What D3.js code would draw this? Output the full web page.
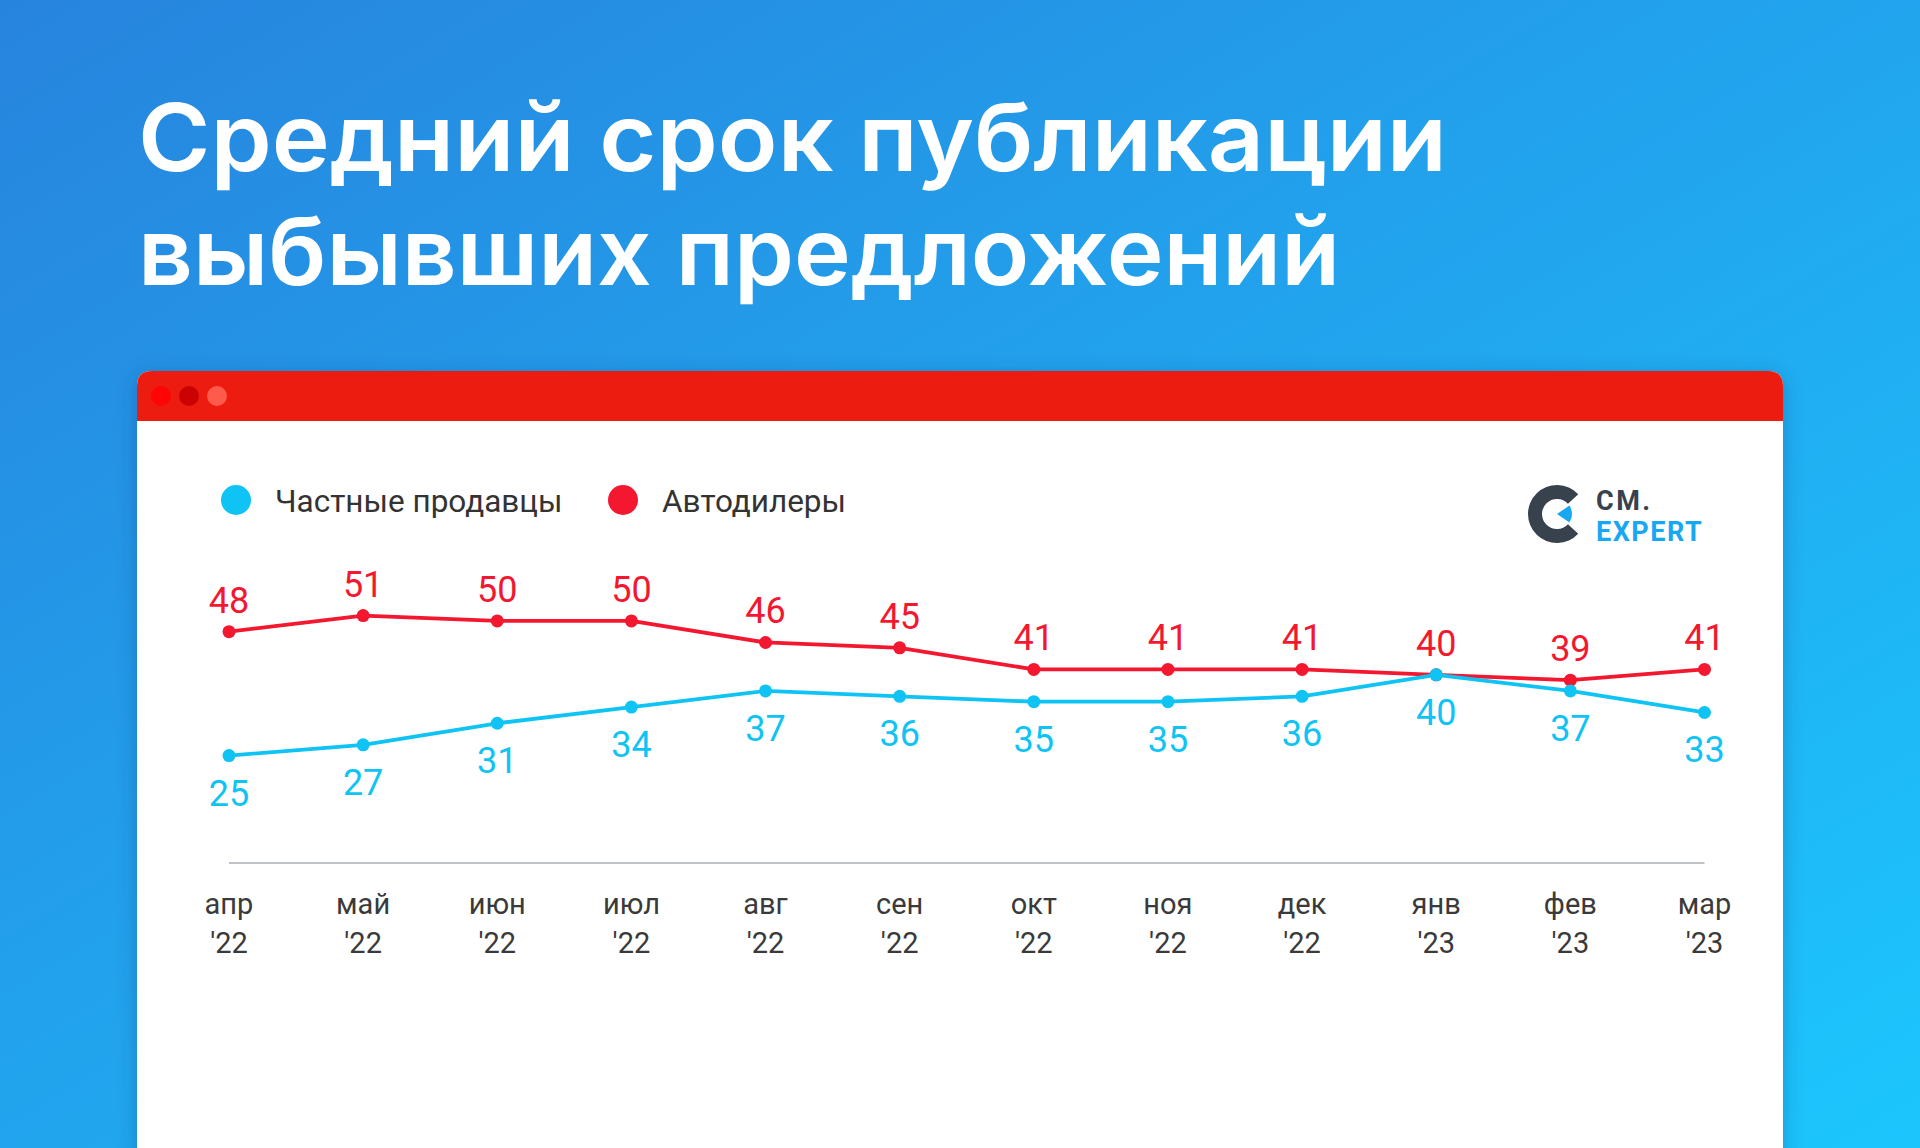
<!DOCTYPE html>
<html><head><meta charset="utf-8">
<script src="https://cdn.jsdelivr.net/npm/d3@7"></script>
<style>html,body{margin:0;padding:0;overflow:hidden;}svg{display:block;}</style>
</head><body>
<script>
const months = ["апр","май","июн","июл","авг","сен","окт","ноя","дек","янв","фев","мар"];
const years = ["'22","'22","'22","'22","'22","'22","'22","'22","'22","'23","'23","'23"];
const privateSellers = [25,27,31,34,37,36,35,35,36,40,37,33];
const dealers = [48,51,50,50,46,45,41,41,41,40,39,41];
const seriesNames = ["Частные продавцы","Автодилеры"];
const titleLines = ["Средний срок публикации","выбывших предложений"];

const W=1920,H=1148;
const RED="#f3172f", BLUE="#0fc4f4";
const svg=d3.select("body").append("svg").attr("width",W).attr("height",H);
const defs=svg.append("defs");
const g=defs.append("linearGradient").attr("id","bg").attr("x1","0").attr("y1","0").attr("x2","1").attr("y2","1");
g.append("stop").attr("offset","0").attr("stop-color","#2784de");
g.append("stop").attr("offset","1").attr("stop-color","#1cc6fd");
const f=defs.append("filter").attr("id","sh").attr("x","-5%").attr("y","-5%").attr("width","110%").attr("height","115%");
f.append("feDropShadow").attr("dx",0).attr("dy",4).attr("stdDeviation",10).attr("flood-color","#0a3a7a").attr("flood-opacity",0.35);
svg.append("rect").attr("width",W).attr("height",H).attr("fill","url(#bg)");

// title
const titleWidths=[1309,1202];
svg.append("g").selectAll("text").data(titleLines).join("text")
  .attr("x",138).attr("y",(d,i)=>171+i*114)
  .attr("fill","#fff").attr("font-family","Inter, 'Open Sans', sans-serif").attr("font-weight",600)
  .attr("font-size",94).attr("textLength",(d,i)=>titleWidths[i]).attr("lengthAdjust","spacingAndGlyphs").text(d=>d);

// card
const cx0=137,cx1=1783,cy0=371;
const card=svg.append("g").attr("filter","url(#sh)");
card.append("path").attr("d",`M${cx0},${H+20}V${cy0+15}Q${cx0},${cy0} ${cx0+15},${cy0}H${cx1-15}Q${cx1},${cy0} ${cx1},${cy0+15}V${H+20}Z`).attr("fill","#fff");
svg.append("path").attr("d",`M${cx0},421V${cy0+15}Q${cx0},${cy0} ${cx0+15},${cy0}H${cx1-15}Q${cx1},${cy0} ${cx1},${cy0+15}V421Z`).attr("fill","#ec1c11");
svg.append("g").selectAll("circle").data(["#ff0505","#cc0202","#ff5b4c"]).join("circle")
  .attr("cx",(d,i)=>161+i*28).attr("cy",396).attr("r",10).attr("fill",d=>d);

// scales
const x=d3.scalePoint().domain(d3.range(months.length)).range([229,1704.5]);
const y=d3.scaleLinear().domain([20,55]).range([782.5,594]);

// axis line
const axisG=svg.append("g").attr("transform","translate(0,863)");
const xAxis=d3.axisBottom(x).tickSize(0).tickFormat("");
axisG.call(xAxis);
axisG.select(".domain").attr("stroke","#a8adb3").attr("stroke-width",1.3).attr("d",`M${x(0)},0H${x(11)}`);
// tick labels
const tl=svg.append("g").attr("font-family","Roboto, sans-serif").attr("font-size",29).attr("fill","#3a3a3a").attr("text-anchor","middle");
tl.selectAll("text.m").data(months).join("text").attr("class","m").attr("x",(d,i)=>x(i)).attr("y",914).text(d=>d);
tl.selectAll("text.yr").data(years).join("text").attr("class","yr").attr("x",(d,i)=>x(i)).attr("y",953).text(d=>d);

// lines
const line=d3.line().x((d,i)=>x(i)).y(d=>y(d));
function drawSeries(vals,color,above){
  svg.append("path").datum(vals).attr("d",line).attr("fill","none").attr("stroke",color).attr("stroke-width",3.8).attr("stroke-linejoin","round");
  svg.append("g").selectAll("circle").data(vals).join("circle").attr("cx",(d,i)=>x(i)).attr("cy",d=>y(d)).attr("r",6.5).attr("fill",color);
  svg.append("g").selectAll("text").data(vals).join("text")
    .attr("x",(d,i)=>x(i)).attr("y",d=>above? y(d)-19 : y(d)+50)
    .attr("text-anchor","middle").attr("font-family","Roboto, sans-serif").attr("font-weight",400).attr("font-size",36).attr("fill",color).text(d=>d);
}
drawSeries(dealers,RED,true);
drawSeries(privateSellers,BLUE,false);

// legend
const leg=svg.append("g").attr("font-family","Roboto, sans-serif").attr("font-size",31.5).attr("fill","#333");
const legX=[236,623];
[BLUE,RED].forEach((c,i)=>{
  leg.append("circle").attr("cx",legX[i]).attr("cy",500).attr("r",15).attr("fill",c);
  leg.append("text").attr("x",legX[i]+39).attr("y",512).text(seriesNames[i]);
});

// logo
const lg=svg.append("g").attr("transform","translate(1557,514)");
const arc=d3.arc();
lg.append("path").attr("d",arc({innerRadius:15,outerRadius:29,startAngle:Math.PI/2+0.75,endAngle:Math.PI*2.5-0.75})).attr("fill","#37424d");
lg.append("path").attr("d",arc({innerRadius:0,outerRadius:15,startAngle:Math.PI/2-0.6,endAngle:Math.PI/2+0.6})).attr("fill","#18a8f2");
svg.append("text").attr("x",1596).attr("y",510).attr("font-family","Roboto, sans-serif").attr("font-weight",700).attr("font-size",27).attr("letter-spacing",2.5).attr("fill","#37424d").text("CM.");
svg.append("text").attr("x",1596).attr("y",541).attr("font-family","Roboto, sans-serif").attr("font-weight",700).attr("font-size",27).attr("letter-spacing",1.5).attr("fill","#18a8f2").text("EXPERT");
</script>
</body></html>
